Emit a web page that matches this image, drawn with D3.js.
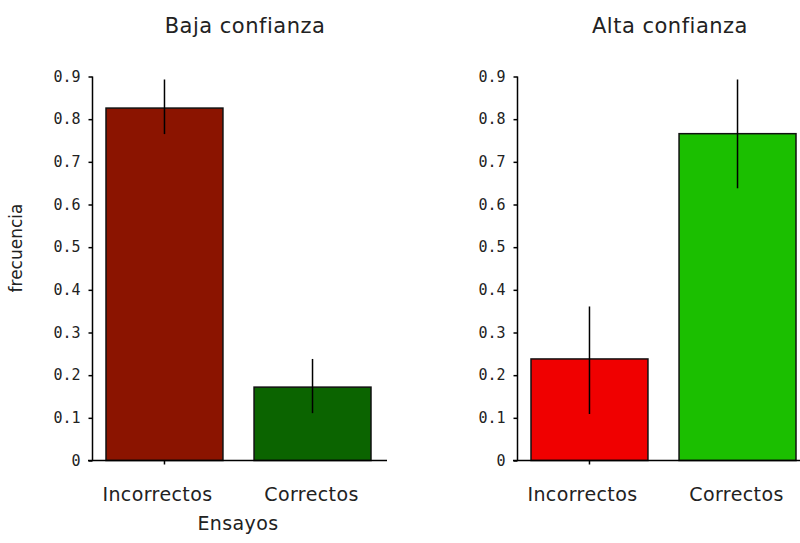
<!DOCTYPE html>
<html>
<head>
<meta charset="utf-8">
<script src="https://cdn.jsdelivr.net/npm/d3@7"></script>
<style>
  body { margin: 0; background: #fff; }
  svg { display: block; }
</style>
</head>
<body>
<div id="chart"></div>
<script>
// Data
var panelTitles = ["Baja confianza", "Alta confianza"];
var categories = ["Incorrectos", "Correctos"];

var bajaValues = [0.826, 0.172];
var bajaLower = [0.765, 0.111];
var bajaUpper = [0.893, 0.238];

var altaValues = [0.238, 0.766];
var altaLower = [0.109, 0.638];
var altaUpper = [0.361, 0.893];

var yTicks = [0, 0.1, 0.2, 0.3, 0.4, 0.5, 0.6, 0.7, 0.8, 0.9];

var bajaColors = ["#8b1400", "#0b6400"];
var altaColors = ["#f00000", "#1bbf00"];

var width = 800;
var height = 543;

var svg = d3.select("#chart").append("svg").attr("width", width).attr("height", height);

// shared y scale
var y = d3.scaleLinear().domain([0, 0.9]).range([460.5, 76.5]);

// panel layout (pixels)
var panels = [
    {title: panelTitles[0], values: bajaValues, lower: bajaLower, upper: bajaUpper, colors: bajaColors,
     axisX: 92.5, bars: [106, 371], lineStart: 88, lineEnd: 387, titleX: 245},
    {title: panelTitles[1], values: altaValues, lower: altaLower, upper: altaUpper, colors: altaColors,
     axisX: 517.5, bars: [531, 796], lineStart: 513, lineEnd: 800, titleX: 670}
];

var labelShift = [-7, -1];

panels.forEach(function (p) {
    var g = svg.append("g");

    var x = d3.scaleBand().domain(categories).range(p.bars).paddingInner(0.21).paddingOuter(0);

    var rows = categories.map(function (c, i) {
        return {cat: c, value: p.values[i], lo: p.lower[i], hi: p.upper[i], color: p.colors[i]};
    });

    // bars
    g.selectAll(".bar").data(rows).enter().append("rect")
        .attr("x", function (d) { return x(d.cat); })
        .attr("y", function (d) { return y(d.value); })
        .attr("width", x.bandwidth())
        .attr("height", function (d) { return y(0) - y(d.value); })
        .style("fill", function (d) { return d.color; })
        .style("stroke", "#111")
        .style("stroke-width", 1.5);

    // error bars
    g.selectAll(".err").data(rows).enter().append("line")
        .attr("x1", function (d) { return x(d.cat) + x.bandwidth() / 2; })
        .attr("x2", function (d) { return x(d.cat) + x.bandwidth() / 2; })
        .attr("y1", function (d) { return y(d.hi); })
        .attr("y2", function (d) { return y(d.lo); })
        .style("stroke", "#000")
        .style("stroke-width", 1.5);

    // y axis
    var yAxis = g.append("g").attr("transform", "translate(" + p.axisX + ",0)")
        .call(d3.axisLeft(y).tickValues(yTicks).tickSize(4).tickPadding(8)
            .tickFormat(function (d) { return d === 0 ? "0" : d.toFixed(1); }));
    yAxis.select(".domain").remove();
    yAxis.selectAll(".tick line").style("stroke", "#000").style("stroke-width", 1.5);
    yAxis.selectAll(".tick text")
        .style("font-family", "DejaVu Sans Mono, monospace")
        .style("font-size", "15px")
        .style("fill", "#222");
    g.append("line")
        .attr("x1", p.axisX).attr("x2", p.axisX)
        .attr("y1", y(0.9)).attr("y2", y(0))
        .style("stroke", "#000").style("stroke-width", 1.5);

    // x axis line and the single category tick
    g.append("line")
        .attr("x1", p.lineStart).attr("x2", p.lineEnd)
        .attr("y1", y(0)).attr("y2", y(0))
        .style("stroke", "#000").style("stroke-width", 1.5);
    var c0 = x(categories[0]) + x.bandwidth() / 2;
    g.append("line")
        .attr("x1", c0).attr("x2", c0)
        .attr("y1", y(0)).attr("y2", y(0) + 4)
        .style("stroke", "#000").style("stroke-width", 1.5);

    // category labels
    g.selectAll(".cat").data(categories).enter().append("text")
        .attr("x", function (d, i) { return x(d) + x.bandwidth() / 2 + labelShift[i]; })
        .attr("y", 501)
        .attr("text-anchor", "middle")
        .style("font-family", "DejaVu Sans, sans-serif")
        .style("font-size", "19px")
        .style("letter-spacing", "0.4px")
        .style("fill", "#222")
        .text(function (d) { return d; });

    // title
    g.append("text")
        .attr("x", p.titleX).attr("y", 33)
        .attr("text-anchor", "middle")
        .style("font-family", "DejaVu Sans, sans-serif")
        .style("font-size", "21px")
        .style("letter-spacing", "0.5px")
        .style("fill", "#222")
        .text(p.title);
});

// axis titles
svg.append("text")
    .attr("x", 238).attr("y", 530)
    .attr("text-anchor", "middle")
    .style("font-family", "DejaVu Sans, sans-serif")
    .style("font-size", "19px")
    .style("letter-spacing", "0.4px")
    .style("fill", "#222")
    .text("Ensayos");

svg.append("text")
    .attr("transform", "translate(22,248) rotate(-90)")
    .attr("text-anchor", "middle")
    .style("font-family", "DejaVu Sans, sans-serif")
    .style("font-size", "17px")
    .style("fill", "#222")
    .text("frecuencia");
</script>
</body>
</html>
